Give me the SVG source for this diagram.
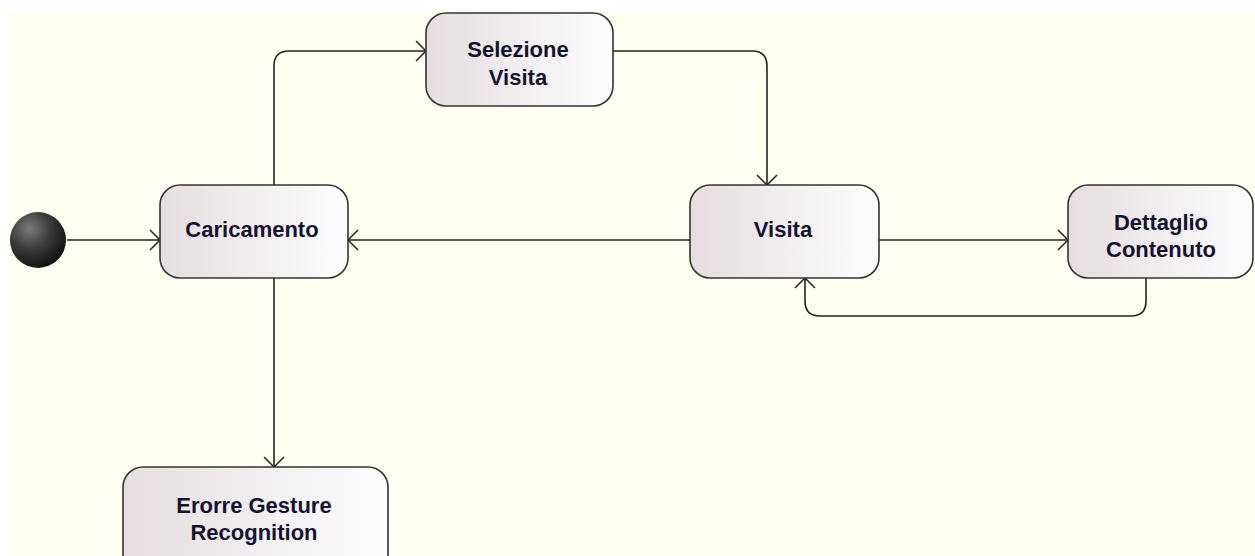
<svg xmlns="http://www.w3.org/2000/svg" width="1255" height="556" viewBox="0 0 1255 556">
  <defs>
    <linearGradient id="stateFill" x1="0" y1="0" x2="1" y2="0">
      <stop offset="0" stop-color="#E6DDE0"/>
      <stop offset="1" stop-color="#FDFDFF"/>
    </linearGradient>
    <radialGradient id="initFill" cx="0.35" cy="0.3" r="0.75">
      <stop offset="0" stop-color="#7A7A7A"/>
      <stop offset="0.5" stop-color="#3A3A3A"/>
      <stop offset="1" stop-color="#101010"/>
    </radialGradient>
    <marker id="openArrow" viewBox="0 0 12 22" refX="11" refY="11" markerWidth="12" markerHeight="22" markerUnits="userSpaceOnUse" orient="auto">
      <path d="M1,1 L11,11 L1,21" fill="none" stroke="#222" stroke-width="1.5"/>
    </marker>
  </defs>
  <style>
    .state { fill: url(#stateFill); stroke: #333; stroke-width: 1.6; }
    .label { font-family: "Liberation Sans", Arial, sans-serif; font-weight: bold; font-size: 22px; fill: #141430; text-anchor: middle; }
    .edge { fill: none; stroke: #222; stroke-width: 1.6; marker-end: url(#openArrow); }
  </style>

  <!-- canvas: white margin with cream drawing area -->
  <rect width="1255" height="556" fill="#FFFFFF"/>
  <rect x="8" y="11" width="1247" height="545" fill="#FFFFF2"/>

  <!-- transitions -->
  <g id="connectors">
    <path class="edge" d="M67,240 H160"/>
    <path class="edge" d="M274,185 V66 Q274,51 289,51 H426"/>
    <path class="edge" d="M613,51 H752 Q767,51 767,66 V185"/>
    <path class="edge" d="M690,240 H348"/>
    <path class="edge" d="M879,240 H1068"/>
    <path class="edge" d="M1146,278 V301 Q1146,316 1131,316 H820 Q805,316 805,301 V278"/>
    <path class="edge" d="M274,278 V467"/>
  </g>

  <g id="initial">
    <circle cx="38" cy="240" r="28" fill="url(#initFill)"/>
  </g>

  <g id="caricamento">
    <rect class="state" x="160" y="185" width="188" height="93" rx="20"/>
    <text class="label" x="252" y="237">Caricamento</text>
  </g>

  <g id="selezione-visita">
    <rect class="state" x="426" y="13" width="187" height="93" rx="20"/>
    <text class="label" x="518" y="57">Selezione</text>
    <text class="label" x="518" y="85">Visita</text>
  </g>

  <g id="visita">
    <rect class="state" x="690" y="185" width="189" height="93" rx="20"/>
    <text class="label" x="783" y="237">Visita</text>
  </g>

  <g id="dettaglio-contenuto">
    <rect class="state" x="1068" y="185" width="185" height="93" rx="20"/>
    <text class="label" x="1161" y="230">Dettaglio</text>
    <text class="label" x="1161" y="257">Contenuto</text>
  </g>

  <g id="errore-gesture">
    <rect class="state" x="123" y="467" width="265" height="110" rx="20"/>
    <text class="label" x="254" y="513">Erorre Gesture</text>
    <text class="label" x="254" y="540">Recognition</text>
  </g>
</svg>
